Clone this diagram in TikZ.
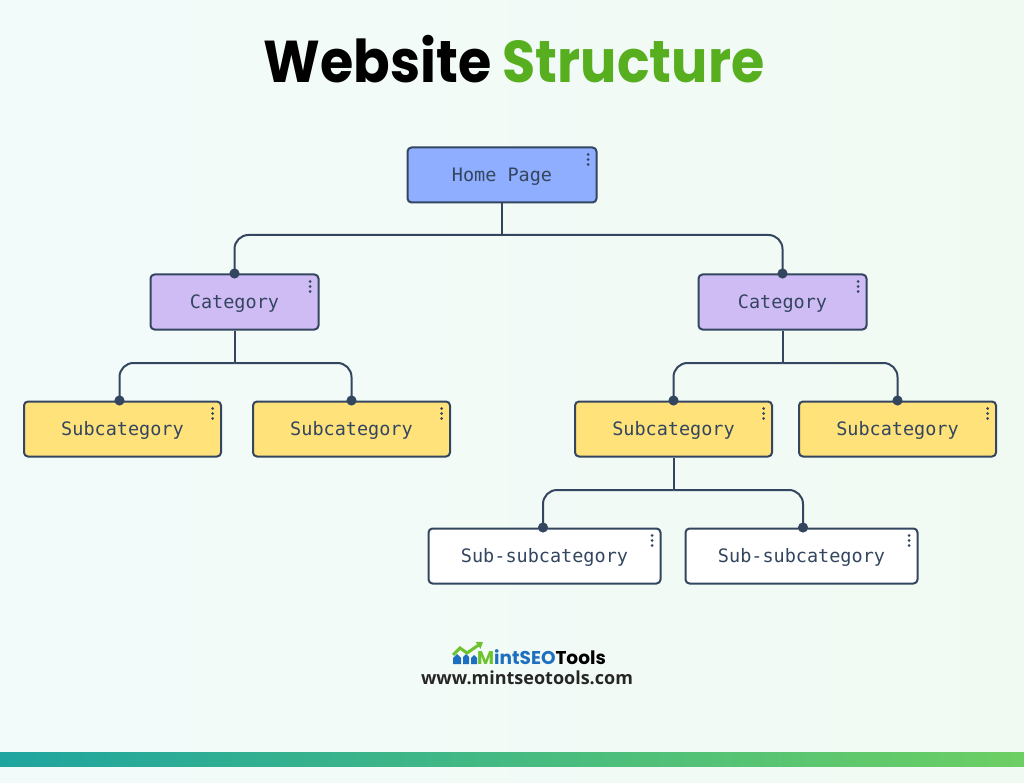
\documentclass[tikz,border=0pt]{standalone}
\usepackage{xcolor}
\usepackage{fontspec}
\setmainfont{Poppins}
\setmonofont{DejaVu Sans Mono}
\newfontfamily\urlfont{Open Sans}
\usetikzlibrary{arrows.meta, positioning}
\definecolor{ink}{HTML}{34465F}
\definecolor{homeblue}{HTML}{8FAEFF}
\definecolor{catpurple}{HTML}{D0BCF5}
\definecolor{subyellow}{HTML}{FFE27A}
\definecolor{titlegreen}{HTML}{57AE1F}
\definecolor{logoblue}{HTML}{1E6FC0}
\definecolor{logogreen}{HTML}{6CC32D}
\definecolor{bgleft}{HTML}{F2FBFA}
\definecolor{bgright}{HTML}{F1FAF2}
\definecolor{bandleft}{HTML}{1FA5A0}
\definecolor{bandright}{HTML}{6CCF63}

\begin{document}
\begin{tikzpicture}[
    x=1pt, y=-1pt,
    box/.style={rectangle, draw=ink, line width=2pt, rounded corners=4pt, minimum height=55pt, align=center, text=ink, text height=15pt, text depth=2pt, font=\ttfamily\fontsize{18.5}{20}\selectfont},
    home/.style={box, fill=homeblue, minimum width=189pt},
    category/.style={box, fill=catpurple, minimum width=168pt},
    subcat/.style={box, fill=subyellow, minimum width=197pt},
    subsub/.style={box, fill=white, minimum width=232pt},
    link/.style={ink, line width=2pt, rounded corners=14pt},
    linkdot/.style={link, -{Circle[length=10pt,width=10pt]}, shorten >=-5pt}
]
% background and bottom band
\useasboundingbox (0,0) rectangle (1024,783);
\shade[left color=bgleft, right color=bgright] (0,0) rectangle (1024,783);
\shade[left color=bandleft, right color=bandright] (0,752) rectangle (1024,766);

% title
\node[font=\bfseries\fontsize{59}{64}\selectfont, inner sep=0pt] (title) at (514,59) {\scalebox{0.914}[1]{Website \textcolor{titlegreen}{Structure}}};

% boxes
\node[home] (homepage) at (502,175) {Home Page};
\node[category] (catL) at (234.5,302) {Category};
\node[category] (catR) at (782.5,302) {Category};
\node[subcat] (subA) at (122.5,429) {Subcategory};
\node[subcat] (subB) at (351.5,429) {Subcategory};
\node[subcat] (subC) at (673.5,429) {Subcategory};
\node[subcat] (subD) at (897.5,429) {Subcategory};
\node[subsub] (ssA) at (544.5,556) {Sub-subcategory};
\node[subsub] (ssB) at (801.5,556) {Sub-subcategory};

% bus points
\coordinate (busH) at (homepage.south |- 0,235);
\coordinate (busL) at (catL.south |- 0,363);
\coordinate (busR) at (catR.south |- 0,363);
\coordinate (busS) at (subC.south |- 0,490);

\draw[link] (homepage.south) -- (busH);
\draw[link] (catL.south) -- (busL);
\draw[link] (catR.south) -- (busR);
\draw[link] (subC.south) -- (busS);
\draw[linkdot] (busH) -| (catL.north);
\draw[linkdot] (busH) -| (catR.north);
\draw[linkdot] (busL) -| ([xshift=-3pt]subA.north);
\draw[linkdot] (busL) -| (subB.north);
\draw[linkdot] (busR) -| (subC.north);
\draw[linkdot] (busR) -| (subD.north);
\draw[linkdot] (busS) -| ([xshift=-1.5pt]ssA.north);
\draw[linkdot] (busS) -| ([xshift=1.5pt]ssB.north);

% menu dots
\foreach \n in {homepage,catL,catR,subA,subB,subC,subD,ssA,ssB}
  \foreach \d in {8,13,18}
    \fill[ink] ([xshift=-9.5pt,yshift=-\d pt]\n.north east) circle (1.5pt);

% logo
\fill[logoblue] (453,664) -- (453,658) -- (457,654) -- (461,658) -- (461,664) -- cycle;
\fill[logoblue] (463,664) -- (463,657) -- (466,654) -- (469,657) -- (469,664) -- cycle;
\fill[logoblue] (471,664) -- (471,658) -- (474,655) -- (477,658) -- (477,664) -- cycle;
\draw[logogreen, line width=3pt, -{Triangle[length=6pt,width=8pt]}] (453,655) -- (460,648) -- (467,653) -- (483,642);
\node[font=\bfseries\fontsize{18.5}{20}\selectfont, inner sep=0pt, anchor=base west] (logotext) at (477,664) {\textcolor{logogreen}{M}\textcolor{logoblue}{intSEO}\textcolor{black}{Tools}};
\node[font=\urlfont\bfseries\fontsize{18}{20}\selectfont, text=black!85, inner sep=0pt] (weburl) at (527,678) {www.mintseotools.com};
\end{tikzpicture}
\end{document}
